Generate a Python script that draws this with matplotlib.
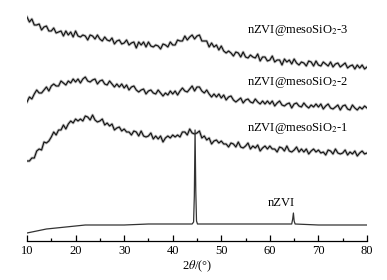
import matplotlib
matplotlib.use('Agg')
import matplotlib.pyplot as plt
import numpy as np
from matplotlib.ticker import MultipleLocator

plt.rcParams['font.family'] = ['Liberation Serif', 'DejaVu Serif']
plt.rcParams['mathtext.fontset'] = 'stix'

# 2theta grid (deg), 0.5 deg step, for the three silica samples
two_theta = np.arange(10, 80.01, 0.5)

# intensities (a.u., offset stacked)
meso3 = [224, 219, 222, 216, 216, 217, 211, 214, 215, 210,
         210, 213, 208, 209, 210, 205, 210, 206, 209, 204,
         210, 205, 204, 206, 205, 201, 206, 205, 202, 206,
         202, 200, 204, 201, 200, 203, 197, 200, 201, 197,
         198, 201, 196, 198, 199, 193, 199, 196, 199, 194,
         199, 195, 194, 196, 195, 192, 197, 196, 194, 199,
         196, 196, 201, 200, 200, 205, 201, 204, 206, 202,
         205, 206, 200, 200, 200, 194, 198, 194, 196, 191,
         195, 190, 188, 190, 188, 185, 189, 188, 184, 189,
         184, 183, 186, 184, 183, 187, 180, 184, 184, 180,
         181, 185, 179, 181, 181, 176, 182, 179, 181, 177,
         182, 178, 176, 179, 178, 175, 180, 179, 175, 180,
         176, 175, 179, 177, 175, 179, 174, 177, 178, 174,
         176, 178, 173, 175, 176, 172, 176, 173, 176, 172,
         174]
meso2 = [139, 144, 142, 147, 151, 148, 148, 151, 154, 150,
         155, 157, 155, 155, 160, 158, 156, 160, 158, 162,
         159, 162, 158, 162, 164, 160, 159, 161, 162, 157,
         160, 161, 157, 156, 160, 157, 154, 157, 154, 157,
         153, 156, 151, 154, 155, 151, 149, 151, 152, 147,
         150, 151, 148, 147, 151, 148, 145, 148, 146, 150,
         147, 150, 146, 150, 153, 150, 149, 152, 155, 150,
         154, 154, 150, 148, 151, 147, 144, 147, 144, 147,
         143, 146, 141, 144, 145, 141, 139, 141, 143, 138,
         141, 142, 139, 138, 142, 139, 137, 140, 137, 140,
         137, 140, 135, 138, 140, 136, 135, 137, 138, 133,
         137, 138, 135, 134, 138, 135, 133, 136, 134, 137,
         134, 137, 132, 135, 137, 133, 132, 134, 136, 131,
         135, 136, 132, 131, 136, 133, 131, 134, 132, 135,
         133]
meso1 = [80, 80, 83, 83, 90, 92, 91, 99, 98, 100,
         104, 109, 106, 111, 111, 116, 112, 117, 120, 118,
         122, 120, 122, 120, 125, 124, 121, 126, 121, 119,
         120, 122, 116, 118, 115, 117, 111, 113, 114, 110,
         112, 109, 109, 106, 110, 109, 105, 110, 105, 104,
         105, 108, 102, 105, 102, 105, 99, 103, 105, 103,
         106, 104, 106, 104, 109, 109, 106, 112, 108, 107,
         108, 110, 103, 105, 101, 103, 97, 100, 101, 98,
         100, 97, 97, 94, 98, 97, 94, 99, 94, 93,
         95, 98, 92, 95, 93, 96, 90, 93, 95, 92,
         95, 92, 92, 89, 94, 93, 90, 95, 90, 89,
         91, 94, 89, 92, 89, 92, 87, 90, 92, 89,
         91, 88, 89, 86, 91, 90, 87, 92, 88, 87,
         88, 91, 86, 89, 87, 90, 85, 88, 90, 87,
         88]

# bare nZVI pattern
nzvi_x = [10, 12, 14, 16, 18, 20, 22, 24, 26, 28, 30, 35, 40, 44, 44.3, 44.45, 44.6,
          44.75, 44.9, 45.1, 46, 50, 55, 60, 64.5, 64.7, 64.85, 65.0, 65.2, 70, 75, 80]
nzvi_y = [8, 10, 12, 13, 14, 15, 16, 16, 16, 16, 16, 17, 17, 17, 19, 45, 111,
          50, 20, 17, 17, 17, 17, 17, 17, 22, 28, 20, 17, 16, 16, 16]

labels = ['nZVI@mesoSiO$_2$-3', 'nZVI@mesoSiO$_2$-2', 'nZVI@mesoSiO$_2$-1', 'nZVI']

fig = plt.figure(figsize=(3.87, 2.80), dpi=100)
ax = fig.add_axes([27/387, 1 - 241/280, 340/387, 241/280])

for series in [meso3, meso2, meso1]:
    ax.plot(two_theta, series, color='#777777', lw=2.0, alpha=0.5)
    ax.plot(two_theta, series, color='#111111', lw=0.8)
ax.plot(nzvi_x, nzvi_y, color='#333333', lw=0.9)

ax.text(65.8, 211, labels[0], ha='center', va='center', fontsize=9)
ax.text(65.8, 158, labels[1], ha='center', va='center', fontsize=9)
ax.text(65.8, 113, labels[2], ha='center', va='center', fontsize=9)
ax.text(62.3, 38, labels[3], ha='center', va='center', fontsize=9)

ax.set_xlim(10, 80)
ax.set_ylim(0, 241)
for s in ['top', 'left', 'right']:
    ax.spines[s].set_visible(False)
ax.spines['bottom'].set_linewidth(0.9)
ax.set_yticks([])
ax.xaxis.set_major_locator(MultipleLocator(10))
ax.xaxis.set_minor_locator(MultipleLocator(5))
ax.tick_params(axis='x', which='major', direction='in', length=4, width=0.9, labelsize=9, pad=3)
ax.tick_params(axis='x', which='minor', direction='in', length=2.5, width=0.9)
ax.set_xlabel(r'2$\theta$/(°)', fontsize=9, labelpad=1)
ax.patch.set_alpha(0)

fig.savefig('out.png', dpi=100)
